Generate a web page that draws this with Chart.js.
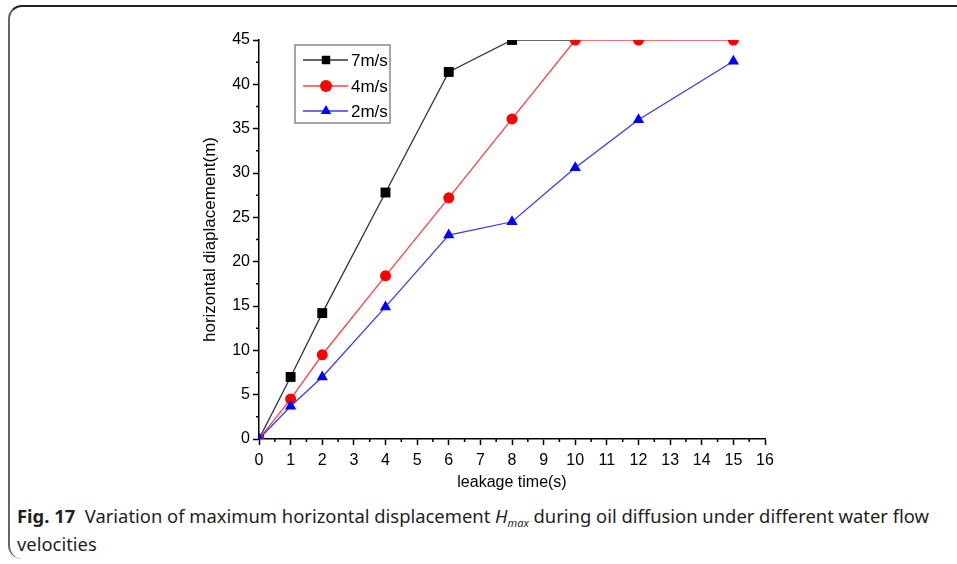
<!DOCTYPE html>
<html>
<head>
<meta charset="utf-8">
<script src="https://cdn.jsdelivr.net/npm/chart.js@4"></script>
<style>
  html, body { margin: 0; padding: 0; background: #fff; }
  body { width: 957px; height: 564px; position: relative; overflow: hidden; }
  #frame {
    position: absolute; left: 8px; top: 5px; width: 1000px; height: 552px;
    border-top: 2px solid #222; border-left: 2px solid #666;
    border-top-left-radius: 14px; border-bottom-left-radius: 14px;
  }
  #grafico { position: absolute; left: 0; top: 0; }
  #caption {
    position: absolute; left: 17px; top: 502px; width: 935px;
    font-family: "Noto Sans", sans-serif; font-size: 18.4px; line-height: 28px; color: #231f20;
  }
  #caption b { font-weight: 700; }
  #caption sub { font-size: 11px; vertical-align: -4px; line-height: 0; }
</style>
</head>
<body>
<div id="frame"></div>
<canvas id="grafico" width="957" height="500"></canvas>
<div id="caption"><b>Fig. 17</b>&nbsp; Variation of maximum horizontal displacement <i>H<sub>max</sub></i> during oil diffusion under different water flow velocities</div>
<script>
// leakage time (s) and horizontal displacement (m)
const times = [0, 1, 2, 4, 6, 8, 10, 12, 15]
const times7 = [0, 1, 2, 4, 6, 8, 10]
const v7 = [0, 7.0, 14.2, 27.8, 41.4, 45, 45]
const v4 = [0, 4.5, 9.5, 18.4, 27.2, 36.1, 45, 45, 45]
const v2 = [0, 3.7, 7.0, 14.9, 23.0, 24.5, 30.6, 36.0, 42.6]
const labels = ['7m/s', '4m/s', '2m/s']

const xTicks = [0, 1, 2, 3, 4, 5, 6, 7, 8, 9, 10, 11, 12, 13, 14, 15, 16]
const yTicks = [0, 5, 10, 15, 20, 25, 30, 35, 40, 45]

const font = 'Liberation Sans, Arial, sans-serif'

const pts = (xs, ys) => xs.map((x, i) => ({ x: x, y: ys[i] }))

// minor ticks half way between majors
const minorTicks = {
    id: 'minorTicks',
    afterDraw(chart) {
        const c = chart.ctx
        const xs = chart.scales.x
        const ys = chart.scales.y
        const a = chart.chartArea
        c.save()
        c.strokeStyle = '#000'
        c.lineWidth = 1.5
        c.beginPath()
        for (let i = 0; i < xTicks.length - 1; i++) {
            const px = xs.getPixelForValue(xTicks[i] + 0.5)
            c.moveTo(px, a.bottom)
            c.lineTo(px, a.bottom + 3)
        }
        for (let i = 0; i < yTicks.length - 1; i++) {
            const py = ys.getPixelForValue(yTicks[i] + 2.5)
            c.moveTo(a.left, py)
            c.lineTo(a.left - 3, py)
        }
        c.stroke()
        c.restore()
    }
}

// boxed legend in the upper left corner of the plot
const boxLegend = {
    id: 'boxLegend',
    afterDraw(chart) {
        const c = chart.ctx
        c.save()
        c.strokeStyle = '#8a8a8a'
        c.lineWidth = 1.5
        c.strokeRect(295, 45, 95, 78)
        const rows = [60, 86, 111]
        chart.data.datasets.forEach((ds, i) => {
            const y = rows[i]
            c.strokeStyle = ds.borderColor
            c.lineWidth = 1.3
            c.beginPath()
            c.moveTo(303, y)
            c.lineTo(348, y)
            c.stroke()
            c.fillStyle = ds.pointBackgroundColor
            c.strokeStyle = ds.pointBackgroundColor
            Chart.helpers.drawPoint(c, { pointStyle: ds.pointStyle, radius: 6, borderWidth: 0 }, 326, y)
            c.fillStyle = '#000'
            c.font = '17px ' + font
            c.textBaseline = 'middle'
            c.fillText(labels[i], 351, y + 1)
        })
        c.restore()
    }
}

const ctx = document.getElementById('grafico')

new Chart(ctx, {
    type: 'line',
    data: {
        datasets: [{
            label: labels[0],
            data: pts(times7, v7),
            borderColor: '#333333',
            borderWidth: 1.3,
            pointStyle: 'rect',
            pointRadius: c => (c.raw && c.raw.x > 8) ? 0 : 7,
            pointBackgroundColor: '#000',
            pointBorderWidth: 0,
            order: 2,
            clip: 0
        }, {
            label: labels[1],
            data: pts(times, v4),
            borderColor: '#ff4040',
            borderWidth: 1.3,
            pointStyle: 'circle',
            pointRadius: 5.5,
            pointBackgroundColor: '#ff0000',
            pointBorderWidth: 0,
            order: 1,
            clip: 0
        }, {
            label: labels[2],
            data: pts(times, v2),
            borderColor: '#3a3aff',
            borderWidth: 1.3,
            pointStyle: 'triangle',
            pointRadius: 6.5,
            pointBackgroundColor: '#0000ff',
            pointBorderWidth: 0,
            order: 0,
            clip: 0
        }]
    },
    options: {
        responsive: false,
        animation: false,
        devicePixelRatio: 1,
        layout: { padding: { left: 190, right: 192, top: 40, bottom: 6 } },
        plugins: {
            legend: { display: false },
            tooltip: { enabled: false }
        },
        scales: {
            x: {
                type: 'linear',
                min: 0,
                max: 16,
                afterFit: s => { s.height = 55 },
                afterBuildTicks: s => { s.ticks = xTicks.map(v => ({ value: v })) },
                border: { color: '#000', width: 1.5 },
                grid: { drawOnChartArea: false, tickLength: 6, tickColor: '#000', tickWidth: 1.5 },
                ticks: { color: '#000', font: { family: font, size: 16 }, padding: 6, maxRotation: 0 },
                title: { display: true, text: 'leakage time(s)', color: '#000', font: { family: font, size: 16 }, padding: { top: 0, bottom: 2 } }
            },
            y: {
                type: 'linear',
                min: 0,
                max: 45,
                afterFit: s => { s.width = 69 },
                afterBuildTicks: s => { s.ticks = yTicks.map(v => ({ value: v })) },
                border: { color: '#000', width: 1.5 },
                grid: { drawOnChartArea: false, tickLength: 6, tickColor: '#000', tickWidth: 1.5 },
                ticks: { color: '#000', font: { family: font, size: 16 }, padding: 3 },
                title: { display: true, text: 'horizontal diaplacement(m)', color: '#000', font: { family: font, size: 17 }, padding: { top: 10, bottom: 0 } }
            }
        }
    },
    plugins: [minorTicks, boxLegend]
})
</script>
</body>
</html>
